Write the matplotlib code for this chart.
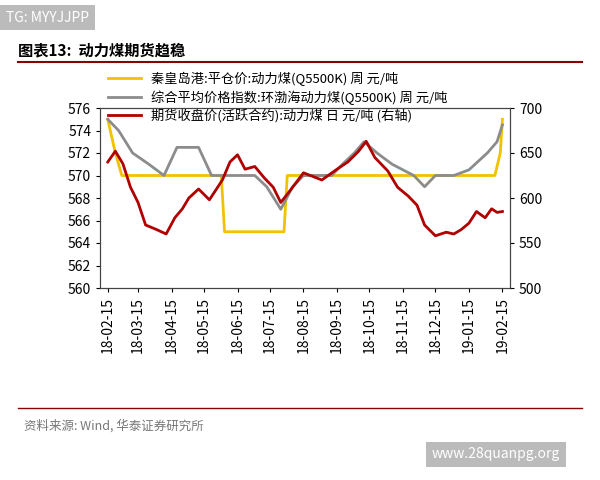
import matplotlib
matplotlib.use("Agg")
import matplotlib.pyplot as plt
import matplotlib.dates as mdates
import pandas as pd

plt.rcParams['font.family'] = ['Noto Sans CJK SC', 'DejaVu Sans']

# yellow: 秦皇岛港平仓价 (left axis)
qhd_dates = ['2018-02-15', '2018-02-22', '2018-02-28', '2018-05-31', '2018-06-03', '2018-07-28',
             '2018-07-31', '2019-02-08', '2019-02-13', '2019-02-15']
qhd_vals = [575, 572, 570, 570, 565, 565, 570, 570, 572, 575]

# grey: 环渤海动力煤指数 (left axis)
bh_dates = ['2018-02-15', '2018-02-25', '2018-03-10', '2018-03-25', '2018-04-08', '2018-04-20',
            '2018-05-10', '2018-05-22', '2018-07-01', '2018-07-12', '2018-07-25', '2018-08-05',
            '2018-08-15', '2018-09-10', '2018-09-20', '2018-10-01', '2018-10-10', '2018-10-22',
            '2018-11-05', '2018-11-25', '2018-12-05', '2018-12-15', '2019-01-01', '2019-01-15',
            '2019-02-01', '2019-02-10', '2019-02-15']
bh_vals = [575, 574, 572, 571, 570, 572.5, 572.5, 570, 570, 569, 567, 569, 570, 570, 571, 572,
           573, 572, 571, 570, 569, 570, 570, 570.5, 572, 573, 574.5]

# red: 期货收盘价 (right axis)
fut_dates = ['2018-02-15', '2018-02-22', '2018-03-01', '2018-03-08', '2018-03-15', '2018-03-22',
             '2018-04-01', '2018-04-10', '2018-04-18', '2018-04-25', '2018-05-01', '2018-05-10',
             '2018-05-20', '2018-06-01', '2018-06-08', '2018-06-15', '2018-06-22', '2018-07-01',
             '2018-07-10', '2018-07-18', '2018-07-25', '2018-08-05', '2018-08-15', '2018-09-01',
             '2018-09-15', '2018-09-25', '2018-10-05', '2018-10-12', '2018-10-20', '2018-11-01',
             '2018-11-10', '2018-11-20', '2018-11-28', '2018-12-05', '2018-12-15', '2018-12-25',
             '2019-01-01', '2019-01-08', '2019-01-15', '2019-01-22', '2019-01-30', '2019-02-05',
             '2019-02-10', '2019-02-15']
fut_vals = [640, 652, 638, 612, 595, 570, 565, 560, 578, 588, 600, 610, 598, 620, 640, 648,
            632, 635, 622, 612, 595, 612, 628, 620, 632, 640, 652, 663, 645, 630, 612, 602,
            592, 570, 558, 562, 560, 565, 572, 585, 578, 588, 584, 585]

tick_dates = ['2018-02-15', '2018-03-15', '2018-04-15', '2018-05-15', '2018-06-15', '2018-07-15',
              '2018-08-15', '2018-09-15', '2018-10-15', '2018-11-15', '2018-12-15', '2019-01-15',
              '2019-02-15']

fig = plt.figure(figsize=(6, 4.8), dpi=100)
ax = fig.add_axes([0.167, 0.4, 0.683, 0.375])
ax2 = ax.twinx()

l1, = ax.plot(pd.to_datetime(qhd_dates), qhd_vals, color='#F2C200', lw=2,
              label='秦皇岛港:平仓价:动力煤(Q5500K) 周 元/吨')
l2, = ax.plot(pd.to_datetime(bh_dates), bh_vals, color='#8C8C8C', lw=2,
              label='综合平均价格指数:环渤海动力煤(Q5500K) 周 元/吨')
l3, = ax2.plot(pd.to_datetime(fut_dates), fut_vals, color='#B00000', lw=2,
               label='期货收盘价(活跃合约):动力煤 日 元/吨 (右轴)')

ax.set_ylim(560, 576)
ax.set_yticks(range(560, 577, 2))
ax2.set_ylim(500, 700)
ax2.set_yticks(range(500, 701, 50))
ax.set_xlim(pd.Timestamp('2018-02-08'), pd.Timestamp('2019-02-22'))
ax.set_xticks(pd.to_datetime(tick_dates))
ax.xaxis.set_major_formatter(mdates.DateFormatter('%y-%m-%d'))
plt.setp(ax.get_xticklabels(), rotation=90)
for a in (ax, ax2):
    a.tick_params(labelsize=10, length=3)
    for s in a.spines.values():
        s.set_color('#444444')

fig.legend(handles=[l1, l2, l3], loc='upper left', bbox_to_anchor=(0.16, 0.875),
           frameon=False, fontsize=9.5, handlelength=2.5, labelspacing=0.3)

fig.text(0.03, 0.885, '图表13:  动力煤期货趋稳', fontsize=11, fontweight='bold')
fig.add_artist(plt.Line2D([0.03, 0.97], [0.87, 0.87], color='#8B0000', lw=1.5))
fig.add_artist(plt.Line2D([0.03, 0.97], [0.15, 0.15], color='#8B0000', lw=1))
fig.text(0.04, 0.105, '资料来源: Wind, 华泰证券研究所', fontsize=9, color='#777777')
fig.text(0.01, 0.955, 'TG: MYYJJPP', fontsize=10, color='white',
         bbox=dict(boxstyle='square,pad=0.4', facecolor='#BBBBBB', edgecolor='none'))
fig.text(0.72, 0.045, 'www.28quanpg.org', fontsize=10, color='white',
         bbox=dict(boxstyle='square,pad=0.4', facecolor='#BBBBBB', edgecolor='none'))

fig.savefig('out.png', dpi=100, facecolor='white')
